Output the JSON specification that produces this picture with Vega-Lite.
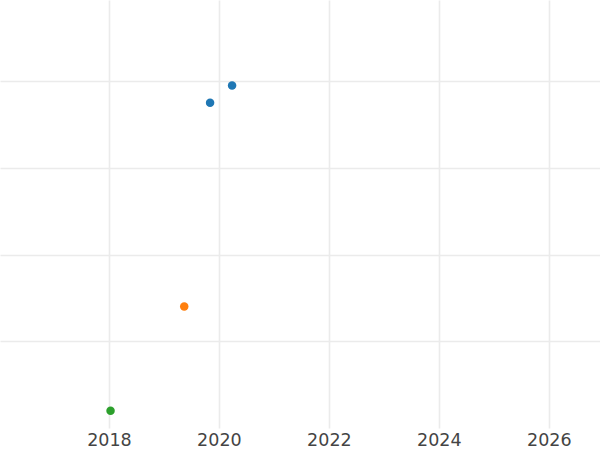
{
  "$schema": "https://vega.github.io/schema/vega-lite/v6.json",
  "width": 600,
  "height": 428,
  "autosize": "none",
  "padding": {"left": 0, "right": 0, "top": 0, "bottom": 22},
  "background": "white",
  "config": {
    "view": {"stroke": null},
    "axis": {"gridColor": "#ebebeb", "gridWidth": 1.6, "domain": false, "ticks": false}
  },
  "data": {
    "values": [
      {"year": 2019.84, "value": 3.75, "group": "A"},
      {"year": 2020.24, "value": 3.95, "group": "A"},
      {"year": 2019.37, "value": 1.40, "group": "B"},
      {"year": 2018.03, "value": 0.20, "group": "C"}
    ]
  },
  "mark": {"type": "point", "filled": true, "opacity": 1, "size": 72},
  "encoding": {
    "x": {
      "field": "year", "type": "quantitative",
      "scale": {"domain": [2016.02, 2026.93], "nice": false, "zero": false},
      "axis": {"values": [2018, 2020, 2022, 2024, 2026], "format": "d", "title": null,
               "labelFont": "DejaVu Sans", "labelFontSize": 17.5, "labelColor": "#444444", "labelPadding": 3}
    },
    "y": {
      "field": "value", "type": "quantitative",
      "scale": {"domain": [0, 4.935], "nice": false, "zero": false},
      "axis": {"values": [1, 2, 3, 4], "labels": false, "title": null}
    },
    "color": {
      "field": "group", "type": "nominal",
      "scale": {"domain": ["A", "B", "C"], "range": ["#1f77b4", "#ff7f0e", "#2ca02c"]},
      "legend": null
    }
  }
}
